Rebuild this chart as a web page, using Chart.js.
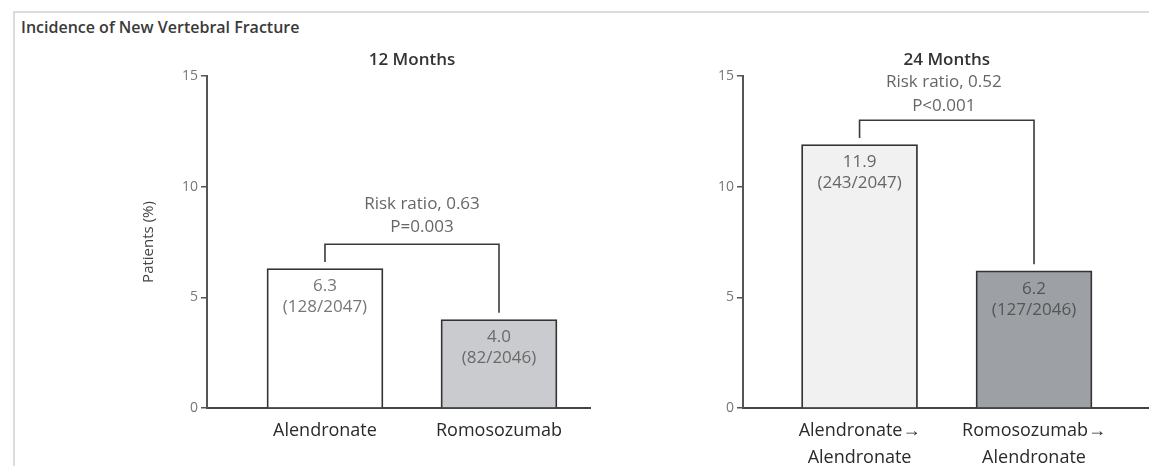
<!DOCTYPE html>
<html>
<head>
<meta charset="utf-8">
<script src="https://cdn.jsdelivr.net/npm/chart.js@4.4.1/dist/chart.umd.min.js"></script>
<style>
  html, body { margin: 0; padding: 0; background: #ffffff; }
  #page { position: relative; width: 1149px; height: 466px; overflow: hidden; background: #ffffff; }
  #frame { position: absolute; left: 13px; top: 11px; right: 0; bottom: 0;
           border-top: 2px solid #dcdcdc; border-left: 2px solid #dcdcdc; }
  #heading { position: absolute; left: 21px; top: 16px; font: 600 16px "Open Sans", sans-serif; color: #3a3a3a; }
  canvas.panel { position: absolute; left: 0; top: 0; }
</style>
</head>
<body>
<div id="page">
  <div id="frame"></div>
  <div id="heading">Incidence of New Vertebral Fracture</div>
  <canvas id="panel12" class="panel" width="1149" height="466"></canvas>
  <canvas id="panel24" class="panel" width="1149" height="466"></canvas>
</div>
<script>
// Treatment groups and incidence of new vertebral fracture (% of patients)
const panelTitles = ['12 Months', '24 Months'];
const categories12 = ['Alendronate', 'Romosozumab'];
const categories24 = [['Alendronate\u2192', 'Alendronate'], ['Romosozumab\u2192', 'Alendronate']];
const incidence12 = [6.3, 4.0];
const incidence24 = [11.9, 6.2];
const events12 = [128, 82];
const patients12 = [2047, 2046];
const events24 = [243, 127];
const patients24 = [2047, 2046];
const riskRatios = ['0.63', '0.52'];
const pValues = ['P=0.003', 'P<0.001'];
const yTicks = [0, 5, 10, 15];
const yAxisTitle = 'Patients (%)';

const FONT = '"Open Sans", sans-serif';

// Per-bar value and count labels, comparison bracket and panel title
const annotate = {
  id: 'annotate',
  afterDatasetsDraw(chart, args, opts) {
    const ctx = chart.ctx;
    const meta = chart.getDatasetMeta(0);
    const ys = chart.scales.y;
    const vals = opts.values;
    ctx.save();
    ctx.textAlign = 'center';
    ctx.textBaseline = 'middle';
    ctx.font = '17px ' + FONT;
    meta.data.forEach((bar, i) => {
      ctx.fillStyle = opts.labelColors[i];
      ctx.fillText(vals[i].toFixed(1), bar.x, bar.y + 18);
      ctx.fillText('(' + opts.events[i] + '/' + opts.patients[i] + ')', bar.x, bar.y + 39);
    });

    // bracket joining the two groups
    const level = Math.max(...vals) + 1.1;
    const yl = ys.getPixelForValue(level);
    const x0 = meta.data[0].x, x1 = meta.data[1].x;
    ctx.strokeStyle = '#3a3a3a';
    ctx.lineWidth = 1.6;
    ctx.beginPath();
    ctx.moveTo(x0, ys.getPixelForValue(vals[0] + 0.3));
    ctx.lineTo(x0, yl);
    ctx.lineTo(x1, yl);
    ctx.lineTo(x1, ys.getPixelForValue(vals[1] + 0.3));
    ctx.stroke();

    const xm = (x0 + x1) / 2;
    ctx.fillStyle = '#666666';
    ctx.font = '17px ' + FONT;
    ctx.fillText('Risk ratio, ' + opts.ratio, xm + opts.shift, yl - opts.gap[0]);
    ctx.fillText(opts.p, xm + opts.shift, yl - opts.gap[1]);

    ctx.fillStyle = '#333333';
    ctx.font = '600 17px ' + FONT;
    ctx.fillText(opts.title, xm, 60);
    ctx.restore();
  }
};

function makePanel(canvasId, cats, vals, colors, extra) {
  return new Chart(document.getElementById(canvasId), {
    type: 'bar',
    data: {
      datasets: [{
        data: vals.map((v, i) => ({ x: i + 1, y: v })),
        backgroundColor: colors,
        borderColor: '#333333',
        borderWidth: 1.8,
        barThickness: 116
      }]
    },
    options: {
      responsive: false,
      animation: false,
      devicePixelRatio: 1,
      layout: { padding: extra.padding },
      plugins: {
        legend: { display: false },
        tooltip: { enabled: false },
        annotate: extra.annotate
      },
      scales: {
        x: {
          type: 'linear',
          offset: false,
          min: extra.xMin,
          max: extra.xMax,
          afterBuildTicks(scale) { scale.ticks = cats.map((c, i) => ({ value: i + 1 })); },
          afterFit(scale) { scale.height = 58; },
          ticks: {
            autoSkip: false,
            maxRotation: 0,
            padding: 9,
            color: '#2a2a2a',
            font: { family: FONT, size: 18, lineHeight: '27px' },
            callback(value) { return cats[value - 1]; }
          },
          grid: { display: true, offset: false, drawOnChartArea: false, drawTicks: false },
          border: { color: '#444444', width: 2 }
        },
        y: {
          min: 0,
          max: 15,
          afterBuildTicks(scale) { scale.ticks = yTicks.map(v => ({ value: v })); },
          afterFit(scale) { scale.width = extra.yWidth; },
          ticks: {
            padding: 3,
            color: '#777777',
            font: { family: FONT, size: 14 }
          },
          grid: { display: true, drawOnChartArea: false, drawTicks: true, tickLength: 6, color: '#555555', lineWidth: 1.5 },
          border: { color: '#555555', width: 2 },
          title: {
            display: !!extra.yTitle,
            text: extra.yTitle || '',
            color: '#444444',
            font: { family: FONT, size: 15 },
            padding: { top: 0, bottom: 0 }
          }
        }
      }
    },
    plugins: [annotate]
  });
}

makePanel('panel12', categories12, incidence12, ['#ffffff', '#c9cbce'], {
  padding: { left: 140, right: 559, top: 76, bottom: 0 },
  xMin: 0.322, xMax: 2.523,
  yWidth: 67,
  yTitle: yAxisTitle,
  annotate: { values: incidence12, events: events12, patients: patients12,
              ratio: riskRatios[0], p: pValues[0], title: panelTitles[0], shift: 10,
              gap: [40, 17], labelColors: ['#777777', '#6a6a6a'] }
});

makePanel('panel24', categories24, incidence24, ['#f1f1f1', '#9da0a5'], {
  padding: { left: 683, right: 0, top: 76, bottom: 0 },
  xMin: 0.332, xMax: 2.659,
  yWidth: 60,
  annotate: { values: incidence24, events: events24, patients: patients24,
              ratio: riskRatios[1], p: pValues[1], title: panelTitles[1], shift: -3,
              gap: [38, 14], labelColors: ['#666666', '#555555'] }
});
</script>
</body>
</html>
